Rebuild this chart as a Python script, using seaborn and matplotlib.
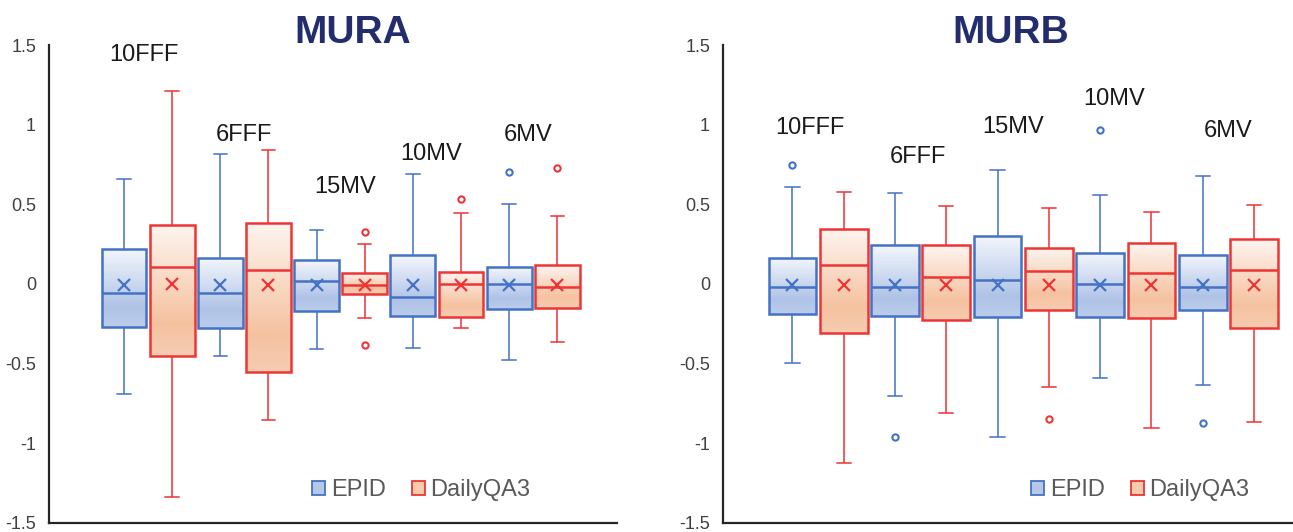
import numpy as np
import pandas as pd
import matplotlib
matplotlib.use("Agg")
import matplotlib.pyplot as plt
from matplotlib.colors import LinearSegmentedColormap
from matplotlib.patches import Patch
import seaborn as sns

beams = ["10FFF", "6FFF", "15MV", "10MV", "6MV"]
devices = ["EPID", "DailyQA3"]

# ---- MURA (five-number summaries) ----
mura_epid_lo = [-0.69, -0.45, -0.41, -0.40, -0.48]
mura_epid_q1 = [-0.27, -0.28, -0.17, -0.20, -0.16]
mura_epid_med = [-0.06, -0.06, 0.02, -0.085, 0.00]
mura_epid_q3 = [0.22, 0.165, 0.147, 0.18, 0.107]
mura_epid_hi = [0.66, 0.815, 0.34, 0.69, 0.50]
mura_epid_out = [[], [], [], [], [0.70]]
mura_epid_mean = [-0.01, -0.01, -0.01, -0.01, -0.01]

mura_qa3_lo = [-1.34, -0.855, -0.215, -0.275, -0.365]
mura_qa3_q1 = [-0.455, -0.555, -0.066, -0.21, -0.152]
mura_qa3_med = [0.107, 0.09, -0.006, 0.00, -0.02]
mura_qa3_q3 = [0.367, 0.385, 0.068, 0.075, 0.117]
mura_qa3_hi = [1.21, 0.84, 0.25, 0.447, 0.425]
mura_qa3_out = [[], [], [0.325, -0.385], [0.534], [0.726]]
mura_qa3_mean = [0.0, -0.005, -0.005, -0.005, -0.005]

# ---- MURB ----
murb_epid_lo = [-0.50, -0.705, -0.96, -0.594, -0.637]
murb_epid_q1 = [-0.192, -0.20, -0.21, -0.21, -0.167]
murb_epid_med = [-0.017, -0.017, 0.026, 0.0, -0.017]
murb_epid_q3 = [0.16, 0.244, 0.30, 0.192, 0.181]
murb_epid_hi = [0.607, 0.571, 0.714, 0.56, 0.677]
murb_epid_out = [[0.745], [-0.962], [], [0.966], [-0.872]]
murb_epid_mean = [-0.01, -0.01, -0.01, -0.01, -0.01]

murb_qa3_lo = [-1.122, -0.812, -0.647, -0.904, -0.865]
murb_qa3_q1 = [-0.31, -0.224, -0.167, -0.216, -0.278]
murb_qa3_med = [0.117, 0.043, 0.083, 0.068, 0.09]
murb_qa3_q3 = [0.342, 0.244, 0.224, 0.256, 0.282]
murb_qa3_hi = [0.577, 0.489, 0.479, 0.449, 0.496]
murb_qa3_out = [[], [], [-0.846], [], []]
murb_qa3_mean = [-0.01, -0.01, -0.01, -0.01, -0.01]

line_colors = {"EPID": "#4472C4", "DailyQA3": "#EE3535"}
grad_cmaps = {
    "EPID": LinearSegmentedColormap.from_list(
        "epid", [(0, "#F4F7FC"), (0.75, "#AFC3E7"), (1, "#BCCDEB")]),
    "DailyQA3": LinearSegmentedColormap.from_list(
        "qa3", [(0, "#FEF5F0"), (0.75, "#F5C2A0"), (1, "#F7CCB1")]),
}
CAP_HALF = 0.07


def box_samples(lo, q1, med, q3, hi, out):
    # 17 points whose quartiles / whiskers / fliers reproduce the summary
    low_out = sorted(v for v in out if v < q1)
    high_out = sorted(v for v in out if v > q3)
    lower = low_out + [lo] + [q1] * (3 - len(low_out))
    upper = [q3] * (3 - len(high_out)) + [hi] + high_out
    return lower + [q1, med, med, med, med, q3, q3, q3, q3] + upper


def long_frame(summary):
    rows = []
    for device, (lo, q1, med, q3, hi, out) in summary.items():
        for i, beam in enumerate(beams):
            for v in box_samples(lo[i], q1[i], med[i], q3[i], hi[i], out[i]):
                rows.append({"beam": beam, "device": device, "value": v})
    return pd.DataFrame(rows)


def mean_frame(means):
    rows = []
    for device, vals in means.items():
        for beam, v in zip(beams, vals):
            rows.append({"beam": beam, "device": device, "value": v})
    return pd.DataFrame(rows)


def paint_gradient(ax, patch, cmap):
    verts = patch.get_path().vertices
    x0, x1 = verts[:, 0].min(), verts[:, 0].max()
    y0, y1 = verts[:, 1].min(), verts[:, 1].max()
    grad = np.linspace(0, 1, 256).reshape(-1, 1)
    im = ax.imshow(grad, extent=(x0, x1, y0, y1), origin="upper", cmap=cmap,
                   aspect="auto", zorder=1.9, interpolation="bilinear")
    im.set_clip_path(patch)
    patch.set_facecolor("none")
    return x1 - x0


def draw_panel(ax, df, mdf, label_x, label_y, xlim, legend_x):
    for device in devices:
        before_p = set(ax.patches)
        before_l = set(ax.lines)
        sns.boxplot(data=df[df["device"] == device], x="beam", y="value",
                    hue="device", order=beams, hue_order=devices,
                    palette=line_colors, linecolor=line_colors[device],
                    width=1.0, gap=0.07, linewidth=1.8, dodge=True,
                    whiskerprops={"linewidth": 1.4, "alpha": 0.8},
                    capprops={"linewidth": 1.4, "alpha": 0.8},
                    flierprops={"marker": "o", "markersize": 4.5,
                                "markerfacecolor": "none",
                                "markeredgewidth": 1.5},
                    legend=False, ax=ax)
        box_w = 0.5
        for p in ax.patches:
            if p not in before_p:
                box_w = paint_gradient(ax, p, grad_cmaps[device])
        # narrow the whisker caps
        for ln in ax.lines:
            if ln in before_l:
                continue
            xd = np.asarray(ln.get_xdata(), float)
            yd = np.asarray(ln.get_ydata(), float)
            if len(xd) == 2 and yd[0] == yd[1] and (xd.max() - xd.min()) < 0.8 * box_w:
                c = xd.mean()
                ln.set_xdata([c - CAP_HALF, c + CAP_HALF])

    sns.pointplot(data=mdf, x="beam", y="value", hue="device", order=beams,
                  hue_order=devices, palette=line_colors, dodge=0.5,
                  errorbar=None, marker="x", linestyle="none", markersize=9,
                  markeredgewidth=1.6, legend=False, ax=ax)

    for name, lx, ly in zip(beams, label_x, label_y):
        ax.text(lx, ly, name, ha="center", va="baseline", fontsize=17,
                color="#1A1A1A")

    y_ticks = [-1.5, -1, -0.5, 0, 0.5, 1, 1.5]
    ax.set_ylim(-1.5, 1.5)
    ax.set_yticks(y_ticks)
    ax.set_yticklabels([f"{t:g}" for t in y_ticks])
    ax.set_xlim(*xlim)
    ax.set_xticks([])
    ax.set_xlabel("")
    ax.set_ylabel("")
    ax.tick_params(axis="y", length=0, pad=9.5, labelsize=13,
                   labelcolor="#404040")
    for side in ["top", "right"]:
        ax.spines[side].set_visible(False)
    for side in ["left", "bottom"]:
        ax.spines[side].set_color("#262626")
        ax.spines[side].set_linewidth(1.6)

    handles = [Patch(facecolor="#B6C8E8", edgecolor=line_colors["EPID"], lw=1.3),
               Patch(facecolor="#F8CBAD", edgecolor=line_colors["DailyQA3"], lw=1.3)]
    ax.legend(handles, devices, loc="center right",
              bbox_to_anchor=(legend_x, 0.068), ncol=2, frameon=False,
              fontsize=17, labelcolor="#595959", handlelength=0.55,
              handleheight=0.55, handletextpad=0.25, columnspacing=1.1)


sns.set_style("white")
plt.rcParams["font.family"] = ["Liberation Sans", "DejaVu Sans"]

fig = plt.figure(figsize=(12.93, 5.32), dpi=100)
ax1 = fig.add_axes([0.0381, 0.0175, 0.4391, 0.8979])
ax2 = fig.add_axes([0.5594, 0.0175, 0.4406, 0.8979])

mura_df = long_frame({
    "EPID": (mura_epid_lo, mura_epid_q1, mura_epid_med, mura_epid_q3, mura_epid_hi, mura_epid_out),
    "DailyQA3": (mura_qa3_lo, mura_qa3_q1, mura_qa3_med, mura_qa3_q3, mura_qa3_hi, mura_qa3_out),
})
murb_df = long_frame({
    "EPID": (murb_epid_lo, murb_epid_q1, murb_epid_med, murb_epid_q3, murb_epid_hi, murb_epid_out),
    "DailyQA3": (murb_qa3_lo, murb_qa3_q1, murb_qa3_med, murb_qa3_q3, murb_qa3_hi, murb_qa3_out),
})
mura_means = mean_frame({"EPID": mura_epid_mean, "DailyQA3": mura_qa3_mean})
murb_means = mean_frame({"EPID": murb_epid_mean, "DailyQA3": murb_qa3_mean})

draw_panel(ax1, mura_df, mura_means,
           [-0.04, 1.0, 2.05, 2.94, 3.95], [1.40, 0.90, 0.57, 0.78, 0.90],
           (-1.026, 4.87), 0.885)
draw_panel(ax2, murb_df, murb_means,
           [-0.08, 0.97, 1.9, 2.89, 4.0], [0.944, 0.762, 0.95, 1.126, 0.922],
           (-0.924, 4.63), 0.961)

fig.text(352.5 / 1293, 1 - 43 / 532, "MURA", ha="center", va="baseline",
         fontsize=28, fontweight="bold", color="#232D6E")
fig.text(1011 / 1293, 1 - 43 / 532, "MURB", ha="center", va="baseline",
         fontsize=28, fontweight="bold", color="#232D6E")

fig.savefig("out.png", dpi=100)
